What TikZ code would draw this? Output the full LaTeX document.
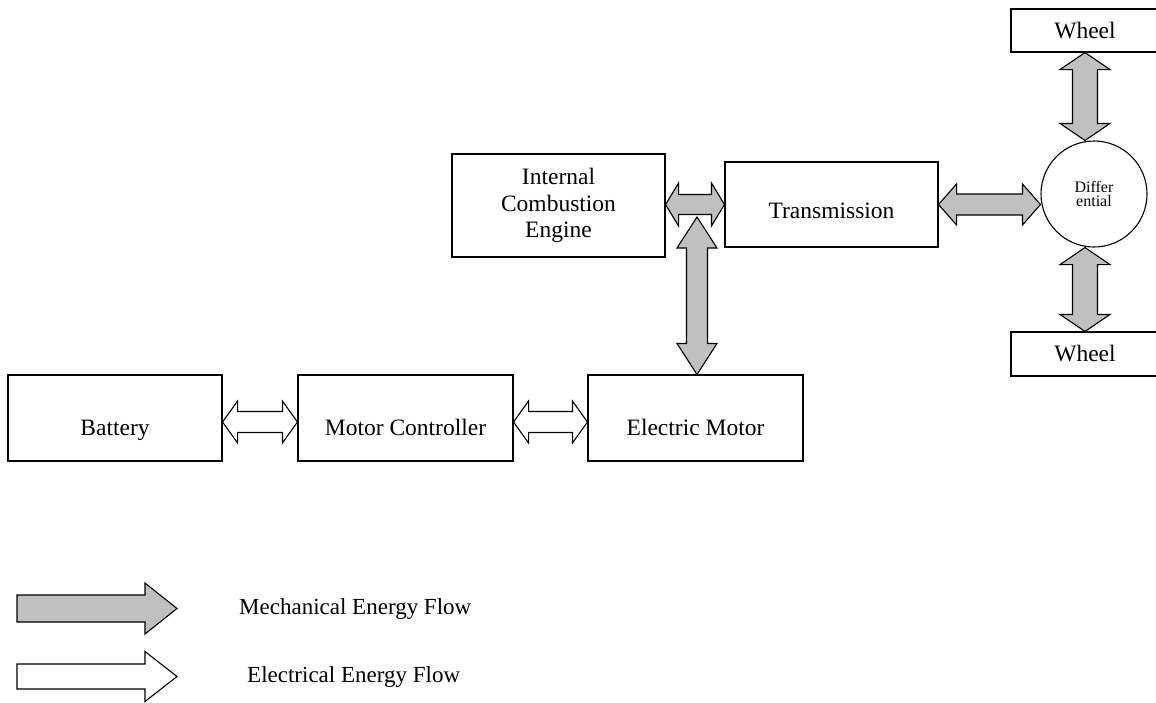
\documentclass[tikz,border=0pt]{standalone}
\usepackage{fontspec}
\setmainfont{Liberation Serif}
\usetikzlibrary{calc}
\definecolor{mechgray}{RGB}{192,192,192}
\tikzset{
  box/.style={draw, line width=1.1pt, fill=white, inner sep=0pt, align=center,
    font=\fontsize{23.5}{26.5}\selectfont},
  lowtext/.style={text height=#1, text depth=0pt},
  mech/.style={draw, line width=1.1pt, fill=mechgray, line join=miter},
  elec/.style={draw, line width=1.1pt, fill=white, line join=miter},
  legend/.style={anchor=west, inner sep=0pt, font=\fontsize{23}{26}\selectfont},
}
% horizontal double block arrow: #1 left tip, #2 right tip, #3 shaft half, #4 head half, #5 head length, #6 style
\newcommand{\HArrow}[6]{%
  \draw[#6] let \p1=(#1), \p2=(#2) in
  (\x1,\y1) -- (\x1+#5pt,\y1+#4pt) -- (\x1+#5pt,\y1+#3pt) -- (\x2-#5pt,\y1+#3pt)
  -- (\x2-#5pt,\y1+#4pt) -- (\x2,\y1) -- (\x2-#5pt,\y1-#4pt) -- (\x2-#5pt,\y1-#3pt)
  -- (\x1+#5pt,\y1-#3pt) -- (\x1+#5pt,\y1-#4pt) -- cycle;}
% vertical double block arrow: #1 top tip, #2 bottom tip
\newcommand{\VArrow}[6]{%
  \draw[#6] let \p1=(#1), \p2=(#2) in
  (\x1,\y1) -- (\x1+#4pt,\y1-#5pt) -- (\x1+#3pt,\y1-#5pt) -- (\x1+#3pt,\y2+#5pt)
  -- (\x1+#4pt,\y2+#5pt) -- (\x1,\y2) -- (\x1-#4pt,\y2+#5pt) -- (\x1-#3pt,\y2+#5pt)
  -- (\x1-#3pt,\y1-#5pt) -- (\x1-#4pt,\y1-#5pt) -- cycle;}
% single block arrow pointing right
\newcommand{\SArrow}[6]{%
  \draw[#6] let \p1=(#1), \p2=(#2) in
  (\x1,\y1+#3pt) -- (\x2-#5pt,\y1+#3pt) -- (\x2-#5pt,\y1+#4pt) -- (\x2,\y1)
  -- (\x2-#5pt,\y1-#4pt) -- (\x2-#5pt,\y1-#3pt) -- (\x1,\y1-#3pt) -- cycle;}
\begin{document}
\begin{tikzpicture}[x=1pt,y=-1pt]
\useasboundingbox (0,0) rectangle (1156,702);
% boxes
\node[box, lowtext=34pt, minimum width=214pt, minimum height=86pt] (bat) at (115,418) {Battery};
\node[box, lowtext=34pt, minimum width=215pt, minimum height=86pt] (mc) at (405.5,418) {Motor Controller};
\node[box, lowtext=34pt, minimum width=215pt, minimum height=86pt] (em) at (695.5,418) {Electric Motor};
\node[box, minimum width=213pt, minimum height=103pt] (ice) at (558.5,205.5) {Internal\\Combustion\\Engine};
\node[box, lowtext=28pt, minimum width=213pt, minimum height=85pt] (tr) at (831.5,204.5) {Transmission};
\node[box, circle, minimum size=106pt, font=\fontsize{16}{14}\selectfont] (diff) at (1094,194) {Differ\\ential};
\node[box, minimum width=148pt, minimum height=43pt] (w1) at (1085,30.5) {Wheel};
\node[box, minimum width=148pt, minimum height=44pt] (w2) at (1085,354) {Wheel};
% joint point on the ICE-transmission shaft
\coordinate (j) at (697,217);
% electrical arrows
\HArrow{[yshift=-4pt]bat.east}{[yshift=-4pt]mc.west}{10.5}{21}{15}{elec}
\HArrow{[yshift=-4pt]mc.east}{[yshift=-4pt]em.west}{10.5}{21}{15}{elec}
% mechanical arrows
\HArrow{ice.east |- tr.west}{tr.west}{10}{21.5}{13}{mech}
\VArrow{j}{j |- em.north}{10.5}{20}{31}{mech}
\HArrow{tr.east}{diff.west |- tr.east}{10.5}{20.5}{18}{mech}
\VArrow{w1.south}{w1.south |- diff.north}{12.5}{25}{17}{mech}
\VArrow{w2.north |- diff.south}{w2.north}{12.5}{25}{17}{mech}
% legend
\coordinate (m0) at (17,608.5);
\coordinate (m1) at (177,608.5);
\coordinate (e0) at (17,676.5);
\coordinate (e1) at (177,676.5);
\SArrow{m0}{m1}{13.5}{25.5}{32}{mech}
\SArrow{e0}{e1}{12.5}{25}{32}{elec}
\node[legend] (lm) at (239,608.5) {Mechanical Energy Flow};
\node[legend] (le) at (247,676.5) {Electrical Energy Flow};
\end{tikzpicture}
\end{document}
